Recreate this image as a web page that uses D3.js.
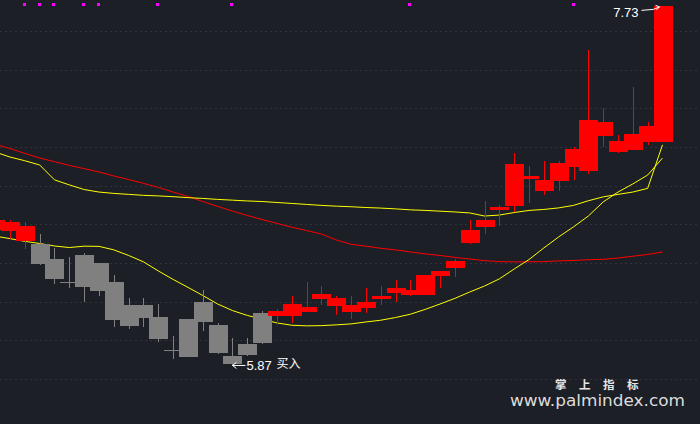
<!DOCTYPE html>
<html><head><meta charset="utf-8">
<script src="https://cdn.jsdelivr.net/npm/d3@7/dist/d3.min.js"></script>
<style>html,body{margin:0;padding:0;background:#1d1f27;overflow:hidden}</style>
</head><body><svg id="c" width="700" height="424"></svg>
<script>
// candle index (first one is cut off at the left edge)
const days = d3.range(46);
const open  = [6.57,6.568,6.515,6.499,6.422,6.303,6.442,6.401,6.303,6.184,6.184,6.122,5.951,6.112,6.199,6.081,5.920,5.982,6.143,6.127,6.127,6.148,6.215,6.179,6.148,6.168,6.215,6.246,6.236,6.236,6.334,6.375,6.504,6.587,6.675,6.696,6.835,6.773,6.825,6.897,6.877,7.057,6.975,6.985,7.026,7.026];
const close = [6.62,6.613,6.592,6.397,6.318,6.303,6.277,6.256,6.106,6.075,6.117,6.008,5.951,5.915,6.096,5.936,5.879,5.926,5.988,6.153,6.189,6.174,6.241,6.220,6.184,6.199,6.230,6.272,6.261,6.339,6.360,6.411,6.572,6.623,6.690,6.913,6.851,6.830,6.918,6.990,7.140,7.130,7.032,7.068,7.109,7.730];
const high  = [6.63,6.623,6.613,6.551,6.479,6.432,6.453,6.401,6.339,6.220,6.220,6.189,6.024,6.112,6.261,6.091,6.013,6.013,6.153,6.163,6.230,6.303,6.282,6.230,6.230,6.272,6.282,6.313,6.313,6.339,6.360,6.422,6.623,6.721,6.701,6.970,6.902,6.928,6.928,7.001,7.502,7.202,7.063,7.311,7.130,7.730];
const low   = [6.55,6.525,6.475,6.391,6.292,6.272,6.199,6.230,6.070,6.060,6.070,5.993,5.905,5.915,6.050,5.931,5.870,5.920,5.982,6.081,6.091,6.148,6.184,6.132,6.112,6.143,6.184,6.199,6.230,6.236,6.272,6.329,6.499,6.551,6.592,6.665,6.711,6.752,6.773,6.830,6.861,7.001,6.970,6.985,7.011,7.026];
const maShort = [6.539,6.526,6.512,6.501,6.488,6.480,6.487,6.486,6.468,6.439,6.406,6.359,6.315,6.274,6.232,6.188,6.154,6.129,6.109,6.090,6.078,6.075,6.076,6.080,6.085,6.095,6.104,6.118,6.135,6.160,6.188,6.217,6.250,6.281,6.318,6.369,6.418,6.478,6.535,6.587,6.643,6.716,6.767,6.809,6.855,6.943];
const maMid = [6.974,6.948,6.929,6.907,6.830,6.804,6.780,6.767,6.760,6.755,6.750,6.747,6.743,6.738,6.734,6.729,6.725,6.721,6.718,6.713,6.708,6.703,6.698,6.694,6.691,6.687,6.684,6.680,6.675,6.672,6.668,6.664,6.659,6.643,6.648,6.661,6.672,6.677,6.685,6.698,6.722,6.742,6.755,6.767,6.786,7.011];
const maLong = [7.014,6.992,6.967,6.943,6.924,6.905,6.888,6.871,6.850,6.832,6.812,6.791,6.767,6.744,6.718,6.693,6.668,6.646,6.625,6.605,6.585,6.568,6.550,6.519,6.497,6.487,6.476,6.468,6.457,6.447,6.439,6.429,6.421,6.412,6.407,6.406,6.406,6.407,6.411,6.413,6.417,6.419,6.426,6.435,6.444,6.457];
const gridLevels = [7.6,7.4,7.2,7.0,6.8,6.6,6.4,6.2,6.0,5.8];
const signalDays = [2,3,4,6,7,11,16,28,39];
const maxLabel = "7.73", minLabel = "5.87", buyLabel = "买入";
const brandCN = "掌上指标", brandURL = "www.palmindex.com";

const W = 700, H = 424;
const svg = d3.select("#c");
svg.append("rect").attr("width", W).attr("height", H).attr("fill", "#1d1f27");

const x = d3.scaleLinear().domain([0, 45]).range([-4.83, 662.5]);
const y = d3.scaleLinear().domain([5.8, 7.6]).range([379, 31]);
const bw = 19;

// grid
svg.append("g").selectAll("line").data(gridLevels).join("line")
  .attr("x1", 0).attr("x2", W)
  .attr("y1", d => Math.round(y(d)) + 0.5).attr("y2", d => Math.round(y(d)) + 0.5)
  .attr("stroke", "#30333d").attr("stroke-width", 1).attr("stroke-dasharray", "2,3");

// moving averages
const lineGen = arr => d3.line().x((d, i) => x(days[i])).y(d => y(d))(arr);
const gl = svg.append("g").attr("fill", "none").attr("stroke-width", 1);
gl.append("path").attr("d", lineGen(maLong)).attr("stroke", "#ff0000");
gl.append("path").attr("d", lineGen(maMid)).attr("stroke", "#ffff00");
gl.append("path").attr("d", lineGen(maShort)).attr("stroke", "#ffff00");

// candles
const gc = svg.append("g").attr("shape-rendering", "crispEdges");
days.forEach(d => {
  const col = (close[d] > open[d]) ? "#ff0000" : (close[d] < open[d] ? "#808080" : (close[d] >= close[d-1] ? "#ff0000" : "#808080"));
  const cx = Math.round(x(d));
  gc.append("line").attr("x1", cx + 0.5).attr("x2", cx + 0.5)
    .attr("y1", y(high[d])).attr("y2", y(low[d])).attr("stroke", col).attr("stroke-width", 1);
  const top = y(Math.max(open[d], close[d])), bot = y(Math.min(open[d], close[d]));
  gc.append("rect").attr("x", cx - 9).attr("width", bw)
    .attr("y", top).attr("height", Math.max(1, bot - top)).attr("fill", col);
});

// signal markers
svg.append("g").attr("shape-rendering", "crispEdges").selectAll("rect").data(signalDays).join("rect")
  .attr("x", d => Math.round(x(d)) - 2).attr("y", 3).attr("width", 3).attr("height", 3)
  .attr("fill", "#ff00ff");

// max label
const dMax = d3.maxIndex(high), dMin = d3.minIndex(low);
const mx = x(dMax), my = y(high[dMax]);
svg.append("text").attr("x", mx - 24).attr("y", my + 11).attr("text-anchor", "end")
  .attr("font-family", "Liberation Sans, Arial, sans-serif").attr("font-size", 13)
  .attr("fill", "#ffffff").text(maxLabel);
svg.append("path").attr("d", `M${mx-21},${my+4.5} L${mx-9},${my+3.5} L${mx-3},${my+1}`)
  .attr("stroke", "#fff").attr("fill", "none").attr("stroke-width", 1);
svg.append("path").attr("d", `M${mx-7},${my-0.5} L${mx-3},${my+1} L${mx-6},${my+4}`)
  .attr("stroke", "#fff").attr("fill", "none").attr("stroke-width", 1);

// min label
const nx = x(dMin), ny = y(low[dMin]);
svg.append("path").attr("d", `M${nx+13},${ny} L${nx},${ny} M${nx+4},${ny-3} L${nx},${ny} L${nx+4},${ny+3}`)
  .attr("stroke", "#fff").attr("fill", "none").attr("stroke-width", 1);
svg.append("text").attr("x", nx + 14).attr("y", ny + 4.5)
  .attr("font-family", "Liberation Sans, Arial, sans-serif").attr("font-size", 13)
  .attr("fill", "#ffffff").text(minLabel);
svg.append("text").attr("x", nx + 44).attr("y", ny + 2.5)
  .attr("font-family", "Noto Sans CJK SC, sans-serif").attr("font-size", 12)
  .attr("fill", "#ffffff").text(buyLabel);

// watermark
svg.append("text").attr("x", 555).attr("y", 388.5)
  .attr("font-family", "Noto Sans CJK SC, sans-serif").attr("font-size", 11.5).attr("font-weight", "bold")
  .attr("letter-spacing", 12.5).attr("fill", "#e6e6e6").text(brandCN);
svg.append("text").attr("x", 510).attr("y", 406)
  .attr("font-family", "DejaVu Sans, Verdana, sans-serif").attr("font-size", 15)
  .attr("textLength", 175).attr("lengthAdjust", "spacingAndGlyphs")
  .attr("fill", "#dcdcdc").text(brandURL);
</script></body></html>
